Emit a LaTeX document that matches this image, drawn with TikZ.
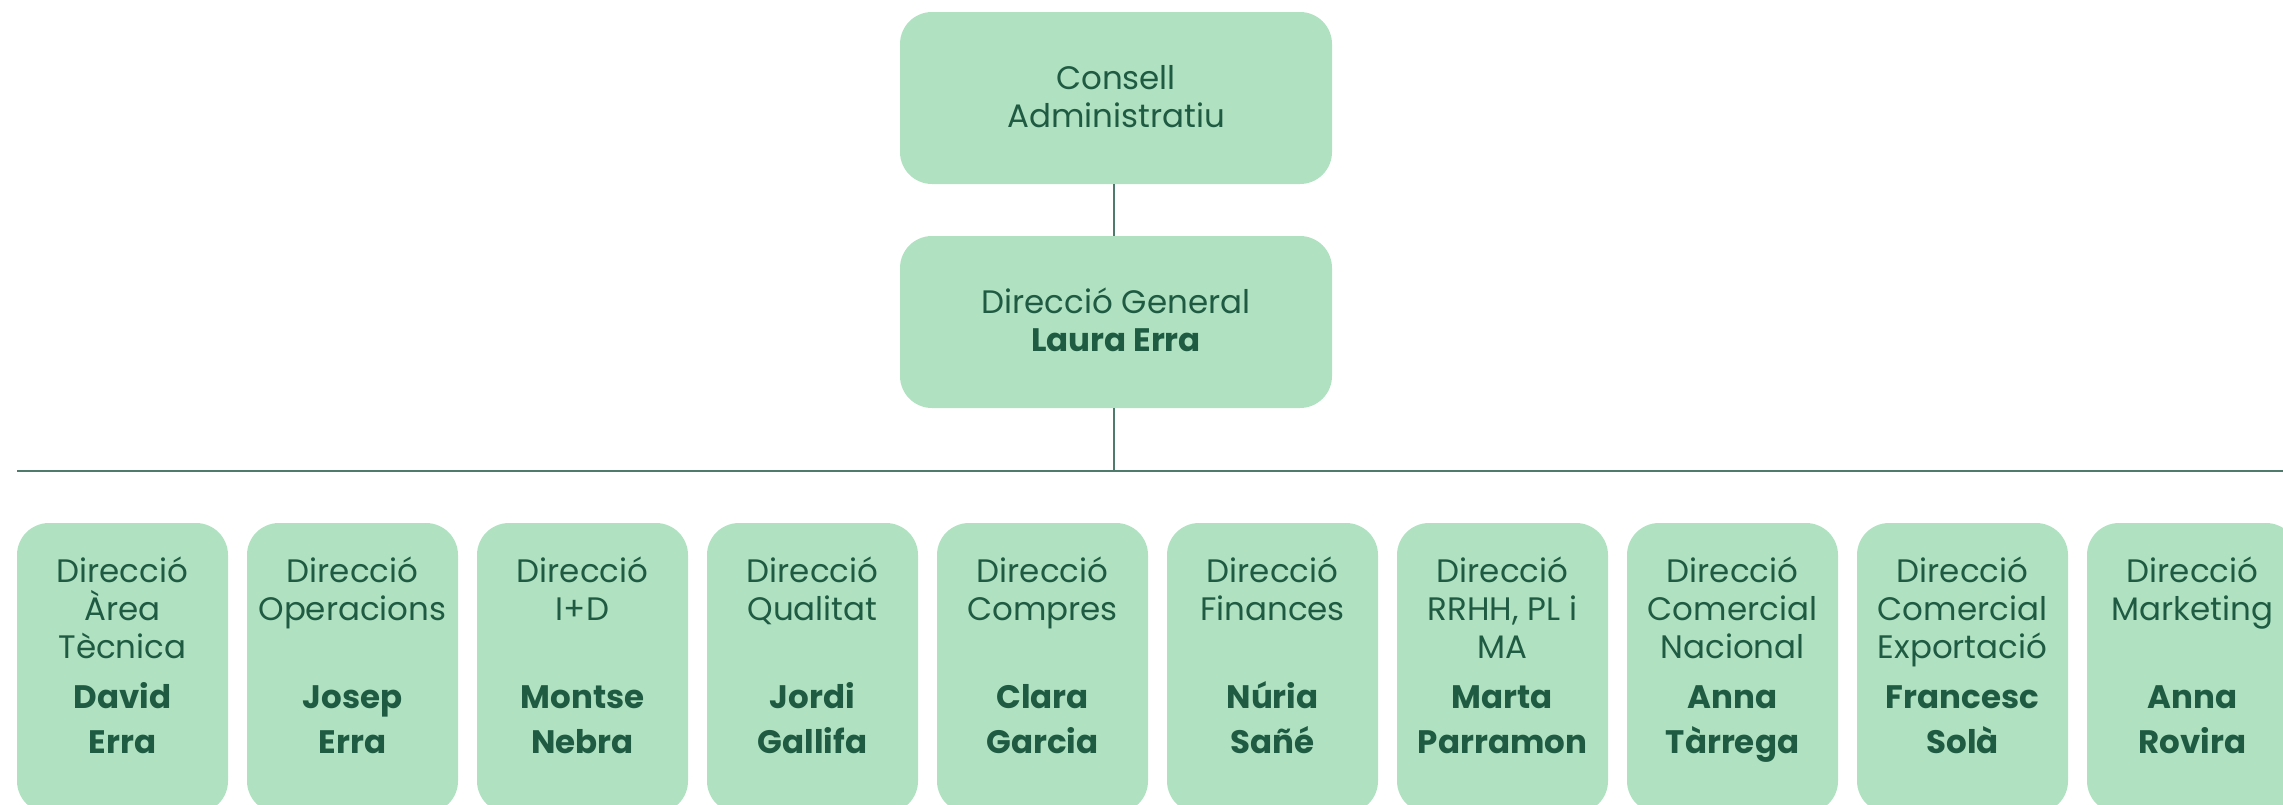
\documentclass[tikz,border=0pt]{standalone}
\usepackage{fontspec}
\setmainfont{Poppins}
\definecolor{boxfill}{HTML}{B0E2C2}
\definecolor{txt}{HTML}{1F5B42}
\definecolor{linec}{HTML}{4E7C6C}
\begin{document}
\begin{tikzpicture}[x=1pt,y=-1pt,
  box/.style={fill=boxfill,draw=none,rounded corners=32pt,inner sep=0pt},
  lbl/.style={anchor=base,inner sep=0pt,text=txt,font=\fontsize{32.5}{38}\selectfont},
  nm/.style={anchor=base,inner sep=0pt,text=txt,font=\fontsize{32.5}{38}\selectfont\bfseries},
  conn/.style={draw=linec,line width=1.6pt}]
\useasboundingbox (0,0) rectangle (2283,804);
% top boxes
\node[box,minimum width=432pt,minimum height=172pt] (ca) at (1116,98) {};
\node[box,minimum width=432pt,minimum height=172pt] (dg) at (1116,322) {};
\node[lbl] (ca1) at (1116,89) {Consell};
\node[lbl] (ca2) at (1116,127) {Administratiu};
\node[lbl] (dg1) at (1116,313) {Direcció General};
\node[nm] (dg2) at (1116,351) {Laura Erra};
\coordinate (bus) at (1114,471);
\coordinate (busL) at (17,471);
\coordinate (busR) at (2283,471);
\draw[conn] (ca.south -| bus) -- (dg.north -| bus);
\draw[conn] (dg.south -| bus) -- (bus);
\draw[conn] (busL) -- (busR);
% bottom boxes
\foreach \i/\a/\b/\c/\n/\m in {
 0/Direcció/Àrea/Tècnica/David/Erra,
 1/Direcció/Operacions//Josep/Erra,
 2/Direcció/I+D//Montse/Nebra,
 3/Direcció/Qualitat//Jordi/Gallifa,
 4/Direcció/Compres//Clara/Garcia,
 5/Direcció/Finances//Núria/Sañé,
 6/Direcció/{RRHH, PL i}/MA/Marta/Parramon,
 7/Direcció/Comercial/Nacional/Anna/Tàrrega,
 8/Direcció/Comercial/Exportació/Francesc/Solà,
 9/Direcció/Marketing//Anna/Rovira}{
  \pgfmathsetmacro{\cx}{122.5+230*\i}
  \node[box,minimum width=211pt,minimum height=290pt] (b\i) at (\cx,668) {};
  \node[lbl] (b\i t1) at (\cx,582) {\a};
  \node[lbl] (b\i t2) at (\cx,620) {\b};
  \node[lbl] (b\i t3) at (\cx,658) {\c};
  \node[nm] (b\i n1) at (\cx,708) {\n};
  \node[nm] (b\i n2) at (\cx,753) {\m};
}
\end{tikzpicture}
\end{document}
